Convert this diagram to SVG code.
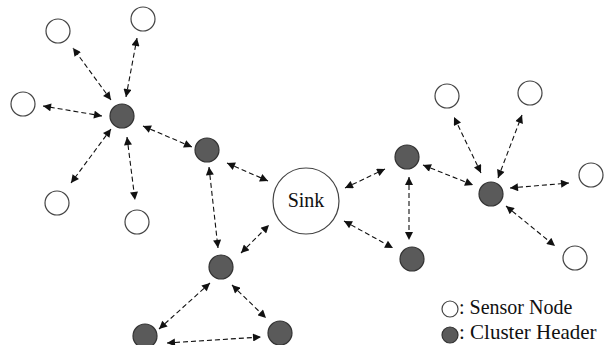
<svg xmlns="http://www.w3.org/2000/svg" width="605" height="345" viewBox="0 0 605 345">
<style>
.s{fill:#fff;stroke:#444;stroke-width:1.2}
.c{fill:#5a5a5a;stroke:#333;stroke-width:1.2}
.e{stroke:#111;stroke-width:1.1;stroke-dasharray:5 3;fill:none;marker-start:url(#a);marker-end:url(#a)}
.t{font-family:"Liberation Serif",serif;font-size:20px;fill:#111}
</style>
<defs>
<marker id="a" viewBox="0 0 10 10" refX="10" refY="5" markerWidth="9" markerHeight="8" markerUnits="userSpaceOnUse" orient="auto-start-reverse">
<path d="M0,0 L10,5 L0,10 z" fill="#111"/>
</marker>
</defs>
<rect width="605" height="345" fill="#fff"/>
<g id="connectors">
<line class="e" x1="111" y1="100" x2="73" y2="48"/>
<line class="e" x1="126" y1="97" x2="137" y2="38"/>
<line class="e" x1="102" y1="116" x2="43" y2="106"/>
<line class="e" x1="111" y1="129" x2="71" y2="183"/>
<line class="e" x1="127" y1="137" x2="135" y2="200"/>
<line class="e" x1="143" y1="126" x2="192" y2="147"/>
<line class="e" x1="227" y1="163" x2="268" y2="181"/>
<line class="e" x1="209" y1="167" x2="218" y2="248"/>
<line class="e" x1="241" y1="253" x2="269" y2="225"/>
<line class="e" x1="210" y1="283" x2="159" y2="329"/>
<line class="e" x1="232" y1="285" x2="266" y2="318"/>
<line class="e" x1="167" y1="343" x2="261" y2="337"/>
<line class="e" x1="345" y1="188" x2="385" y2="169"/>
<line class="e" x1="344" y1="221" x2="393" y2="248"/>
<line class="e" x1="409" y1="177" x2="409" y2="240"/>
<line class="e" x1="423" y1="165" x2="473" y2="185"/>
<line class="e" x1="481" y1="173" x2="454" y2="117"/>
<line class="e" x1="498" y1="178" x2="522" y2="115"/>
<line class="e" x1="510" y1="188" x2="569" y2="183"/>
<line class="e" x1="506" y1="206" x2="555" y2="246"/>
</g>
<g id="sink"><circle class="s" cx="306" cy="201" r="33"/><text class="t" x="306" y="207" text-anchor="middle">Sink</text></g>
<g id="s1"><circle class="s" cx="58" cy="31" r="12"/></g>
<g id="s2"><circle class="s" cx="143" cy="19" r="12"/></g>
<g id="s3"><circle class="s" cx="23" cy="104" r="12"/></g>
<g id="s4"><circle class="s" cx="57" cy="203" r="12"/></g>
<g id="s5"><circle class="s" cx="137" cy="222" r="12"/></g>
<g id="s6"><circle class="s" cx="447" cy="96" r="12"/></g>
<g id="s7"><circle class="s" cx="530" cy="93" r="12"/></g>
<g id="s8"><circle class="s" cx="591" cy="175" r="12"/></g>
<g id="s9"><circle class="s" cx="575" cy="258" r="12"/></g>
<g id="c1"><circle class="c" cx="122" cy="116" r="12"/></g>
<g id="c2"><circle class="c" cx="207" cy="150" r="12"/></g>
<g id="c3"><circle class="c" cx="221" cy="267" r="12"/></g>
<g id="c4"><circle class="c" cx="145" cy="336" r="12"/></g>
<g id="c5"><circle class="c" cx="280" cy="333" r="12"/></g>
<g id="c6"><circle class="c" cx="407" cy="157" r="12"/></g>
<g id="c7"><circle class="c" cx="412" cy="259" r="12"/></g>
<g id="c8"><circle class="c" cx="491" cy="194" r="12"/></g>
<g id="legend">
<circle class="s" cx="450" cy="309" r="8"/>
<text class="t" x="459" y="314">: Sensor Node</text>
<circle class="c" cx="450" cy="335" r="8"/>
<text class="t" x="459" y="339" style="font-size:21px">: Cluster Header</text>
</g>
</svg>
